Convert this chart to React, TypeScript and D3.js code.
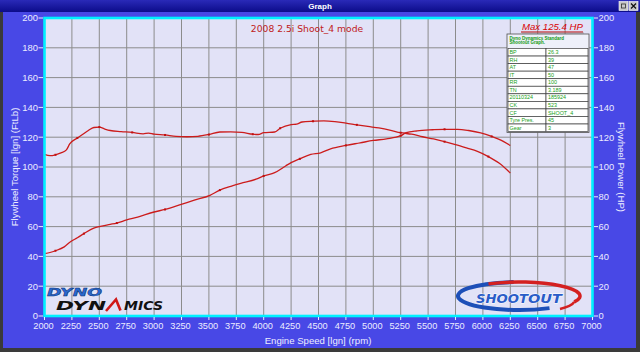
import React from "react";
import * as d3 from "d3";

const W = 640;
const H = 352;

const chartTitle = "2008 2.5i Shoot_4 mode";
const maxLabel = "Max 125.4 HP";
const xTitle = "Engine Speed [lgn] (rpm)";
const yLeftTitle = "Flywheel Torque [lgn] (FtLb)";
const yRightTitle = "Flywheel Power (HP)";

const xTicks = [2000, 2250, 2500, 2750, 3000, 3250, 3500, 3750, 4000, 4250, 4500, 4750, 5000, 5250, 5500, 5750, 6000, 6250, 6500, 6750, 7000];
const yTicks = [0, 20, 40, 60, 80, 100, 120, 140, 160, 180, 200];

const torqueRpm = [2000, 2050, 2100, 2150, 2200, 2230, 2300, 2350, 2400, 2450, 2500, 2550, 2600, 2700, 2800, 2900, 2950, 3000, 3100, 3200, 3300, 3400, 3500, 3600, 3700, 3800, 3900, 3950, 4000, 4100, 4150, 4250, 4300, 4350, 4450, 4550, 4650, 4750, 4850, 4950, 5050, 5150, 5250, 5350, 5450, 5550, 5650, 5750, 5850, 5950, 6050, 6150, 6250];
const torqueVals = [108.5, 107.6, 108.2, 109.5, 111.5, 115.5, 119.5, 122, 124.5, 126.5, 126.8, 125.5, 124.5, 123.8, 123.2, 122.2, 122.8, 122, 121.5, 120.5, 120.3, 120.6, 121.8, 123.5, 123.6, 123.3, 122, 121.8, 123, 123.5, 126, 128.5, 128.8, 130.2, 130.7, 131, 130.5, 129.5, 128.3, 127.2, 126.2, 124.8, 123, 122, 120.3, 118.8, 117, 115, 112.8, 110.5, 107, 102.5, 96];

const powerRpm = [2000, 2100, 2180, 2240, 2300, 2360, 2450, 2510, 2600, 2660, 2750, 2850, 3000, 3100, 3240, 3360, 3510, 3600, 3700, 3790, 3930, 4000, 4100, 4200, 4250, 4330, 4430, 4520, 4610, 4750, 4880, 5000, 5120, 5250, 5300, 5400, 5540, 5650, 5770, 5870, 5980, 6080, 6190, 6250];
const powerVals = [41.8, 43.8, 46.4, 50, 52.5, 55.3, 59, 60.2, 61.5, 62.4, 64.5, 66.4, 69.8, 71.5, 74.7, 77.6, 81, 84.5, 87, 89, 91.8, 94, 96.2, 100.7, 102.9, 105.5, 108.4, 109.5, 112.2, 114.5, 116.2, 117.8, 118.9, 121, 123, 124.3, 125, 125.3, 125.3, 124.5, 122.9, 120.5, 117, 114.4];

const tableHeader = ["Dyno Dynamics Standard", "Shootout Graph."];
const tableLabels = ["BP", "RH", "AT", "IT", "RR", "TN", "20110324", "CK", "CF", "Tyre Pres.", "Gear"];
const tableValues = ["26.3", "39", "47", "50", "100", "3.189", "185924", "523", "SHOOT_4", "45", "3"];

const PL = 44.5, PR = 592.5, PT = 18, PB = 316;

export default function App() {
  const x = d3.scaleLinear().domain([2000, 7000]).range([PL, PR]);
  const y = d3.scaleLinear().domain([0, 200]).range([PB, PT]);

  const line = d3
    .line<[number, number]>()
    .x((d) => x(d[0]))
    .y((d) => y(d[1]))
    .curve(d3.curveMonotoneX);

  const torquePts = torqueRpm.map((r, i) => [r, torqueVals[i]] as [number, number]);
  const powerPts = powerRpm.map((r, i) => [r, powerVals[i]] as [number, number]);

  const tickFont = "'Liberation Sans', Arial, sans-serif";
  const tickColor = "#ececff";

  // table geometry
  const tX0 = 507, tX1 = 589, tXm = 546, tY0 = 34, tHead = 14.5;
  const rowH = 7.55;
  const tY1 = tY0 + tHead + rowH * tableLabels.length + 1;

  // shootout ellipse
  const ecx = 519, ecy = 296, erx = 61, ery = 14;
  const ep = (deg: number) => {
    const t = (deg * Math.PI) / 180;
    return [ecx + erx * Math.cos(t), ecy + ery * Math.sin(t)];
  };
  const b0 = ep(-95), b1 = ep(60);
  const r0 = ep(-120), r1 = ep(25);

  return (
    <svg width={W} height={H} style={{ position: "absolute", left: 0, top: 0 }} xmlns="http://www.w3.org/2000/svg">
      <defs>
        <linearGradient id="tb" x1="0" x2="0" y1="0" y2="1">
          <stop offset="0" stopColor="#2a2ab8" />
          <stop offset="1" stopColor="#0c0c8a" />
        </linearGradient>
      </defs>
      {/* window frame */}
      <rect x={0} y={0} width={W} height={H} fill="#3a3a3a" />
      <rect x={3} y={12} width={W - 7} height={H - 16} fill="#4848e6" />
      {/* title bar */}
      <rect x={0} y={0} width={W} height={12} fill="url(#tb)" />
      <text x={320} y={9} textAnchor="middle" fill="#ffffff" fontFamily={tickFont} fontSize={8} fontWeight="bold">Graph</text>
      <rect x={619} y={1.5} width={9} height={9} fill="#c8c8c8" stroke="#ffffff" strokeWidth={0.6} />
      <rect x={629} y={1.5} width={9} height={9} fill="#c8c8c8" stroke="#ffffff" strokeWidth={0.6} />
      <rect x={621.5} y={4} width={4} height={4} fill="none" stroke="#303030" strokeWidth={0.8} />
      <path d="M631,3.5 L636,8.5 M636,3.5 L631,8.5" stroke="#101010" strokeWidth={1.2} />

      {/* plot background */}
      <rect x={PL} y={PT} width={PR - PL} height={PB - PT} fill="#e2e2f7" />
      {/* grid */}
      {xTicks.map((t) => (
        <line key={"gx" + t} x1={x(t)} x2={x(t)} y1={PT} y2={PB} stroke="#8c8c8c" strokeWidth={1} />
      ))}
      {yTicks.map((t) => (
        <line key={"gy" + t} x1={PL} x2={PR} y1={y(t)} y2={y(t)} stroke="#8c8c8c" strokeWidth={1} />
      ))}

      {/* Dyno Dynamics logo */}
      <g fontFamily="'DejaVu Sans', sans-serif" fontWeight="bold" fontStyle="italic">
        <text x={47} y={296} fontSize={10.5} fill="#2868d0" stroke="#0d2f70" strokeWidth={0.4} textLength={55} lengthAdjust="spacingAndGlyphs">DYNO</text>
        <text x={56} y={310} fontSize={12} fill="#111111" textLength={50} lengthAdjust="spacingAndGlyphs">DYN</text>
        <path d="M106,311 L116,299.5 L120.5,310.5" fill="none" stroke="#d01818" strokeWidth={2.6} strokeLinejoin="miter" />
        <text x={124} y={310} fontSize={12} fill="#111111" textLength={39} lengthAdjust="spacingAndGlyphs">MICS</text>
      </g>

      {/* Shootout logo */}
      <g>
        <path d={`M${b0[0]},${b0[1]} A${erx},${ery} 0 1 0 ${b1[0]},${b1[1]}`} fill="none" stroke="#1d4fb8" strokeWidth={4} />
        <path d={`M${r0[0]},${r0[1]} A${erx},${ery} 0 0 1 ${r1[0]},${r1[1]}`} fill="none" stroke="#d42020" strokeWidth={3.5} />
        <path d={`M${r1[0]},${r1[1]} Q572,306 560,309`} fill="none" stroke="#d42020" strokeWidth={2.5} />
        <text x={476} y={303} fontFamily="'DejaVu Sans', sans-serif" fontWeight="bold" fontStyle="italic" fontSize={13} fill="#2a5cc8" stroke="#ffffff" strokeWidth={0.8} paintOrder="stroke" textLength={52} lengthAdjust="spacingAndGlyphs">SHOOT</text>
        <text x={528} y={303} fontFamily="'DejaVu Sans', sans-serif" fontWeight="bold" fontStyle="italic" fontSize={13} fill="#2a5cc8" stroke="#ffffff" strokeWidth={0.8} paintOrder="stroke" textLength={34} lengthAdjust="spacingAndGlyphs">OUT</text>
      </g>

      {/* curves */}
      <path d={line(torquePts) ?? ""} fill="none" stroke="#cc1c1c" strokeWidth={1.3} />
      <path d={line(powerPts) ?? ""} fill="none" stroke="#cc1c1c" strokeWidth={1.3} />
      {torquePts.filter((_, i) => i % 4 === 2).map((d, i) => (
        <rect key={"mt" + i} x={x(d[0]) - 1} y={y(d[1]) - 1} width={2} height={2} fill="#c01010" />
      ))}
      {powerPts.filter((_, i) => i % 4 === 1).map((d, i) => (
        <rect key={"mp" + i} x={x(d[0]) - 1} y={y(d[1]) - 1} width={2} height={2} fill="#c01010" />
      ))}

      {/* plot title */}
      <text x={307} y={32} textAnchor="middle" fill="#c02020" fontFamily="'DejaVu Sans', sans-serif" fontSize={9.2}>{chartTitle}</text>

      {/* Max label */}
      <text x={522} y={30} fill="#d80000" fontFamily={tickFont} fontStyle="italic" fontSize={9.6}>{maxLabel}</text>
      <line x1={521} x2={583} y1={32} y2={32} stroke="#c00000" strokeWidth={1} />
      <line x1={522} x2={584} y1={33} y2={33} stroke="#a08080" strokeWidth={0.6} />

      {/* info table */}
      <rect x={tX0} y={tY0} width={tX1 - tX0} height={tY1 - tY0} fill="#eef0fa" stroke="#505050" strokeWidth={0.8} />
      {tableHeader.map((h, i) => (
        <text key={"th" + i} x={509.5} y={tY0 + 5.5 + i * 4.2} fontSize={4.5} fontWeight="bold" fill="#109a10" fontFamily={tickFont}>{h}</text>
      ))}
      {tableLabels.map((lab, i) => {
        const ry = tY0 + tHead + i * rowH;
        return (
          <g key={"tr" + i}>
            <rect x={tX0 + 1} y={ry} width={tXm - tX0 - 1} height={rowH} fill="#ffffff" stroke="#3c3c3c" strokeWidth={0.7} />
            <rect x={tXm} y={ry} width={tX1 - tXm - 1} height={rowH} fill="#ffffff" stroke="#3c3c3c" strokeWidth={0.7} />
            <text x={tX0 + 2.5} y={ry + 5.6} fontSize={5.4} fill="#18a018" fontFamily={tickFont}>{lab}</text>
            <text x={tXm + 2} y={ry + 5.6} fontSize={5.4} fill="#18a018" fontFamily={tickFont}>{tableValues[i]}</text>
          </g>
        );
      })}

      {/* cyan frame */}
      <rect x={PL} y={PT} width={PR - PL} height={PB - PT} fill="none" stroke="#00f0ff" strokeWidth={2.6} />

      {/* left axis */}
      {yTicks.map((t) => (
        <g key={"yl" + t}>
          <line x1={38.5} x2={43} y1={y(t)} y2={y(t)} stroke={tickColor} strokeWidth={1} />
          <text x={38} y={y(t) + 3.3} textAnchor="end" fill={tickColor} fontFamily={tickFont} fontSize={9.4}>{t}</text>
        </g>
      ))}
      {/* right axis */}
      {yTicks.map((t) => (
        <g key={"yr" + t}>
          <line x1={594} x2={598} y1={y(t)} y2={y(t)} stroke={tickColor} strokeWidth={1} />
          <text x={598.5} y={y(t) + 3.3} textAnchor="start" fill={tickColor} fontFamily={tickFont} fontSize={9.4}>{t}</text>
        </g>
      ))}
      {/* bottom axis */}
      {xTicks.map((t) => (
        <g key={"xb" + t}>
          <line x1={x(t)} x2={x(t)} y1={PB + 1} y2={PB + 4} stroke={tickColor} strokeWidth={1} />
          <text x={x(t) - 1} y={329} textAnchor="middle" fill={tickColor} fontFamily={tickFont} fontSize={9.2}>{t}</text>
        </g>
      ))}

      {/* axis titles */}
      <text x={318} y={344} textAnchor="middle" fill={tickColor} fontFamily={tickFont} fontSize={9.6}>{xTitle}</text>
      <text transform={`translate(18,167) rotate(-90)`} textAnchor="middle" fill={tickColor} fontFamily={tickFont} fontSize={9.6}>{yLeftTitle}</text>
      <text transform={`translate(618,167) rotate(90)`} textAnchor="middle" fill={tickColor} fontFamily={tickFont} fontSize={9.6}>{yRightTitle}</text>
    </svg>
  );
}
